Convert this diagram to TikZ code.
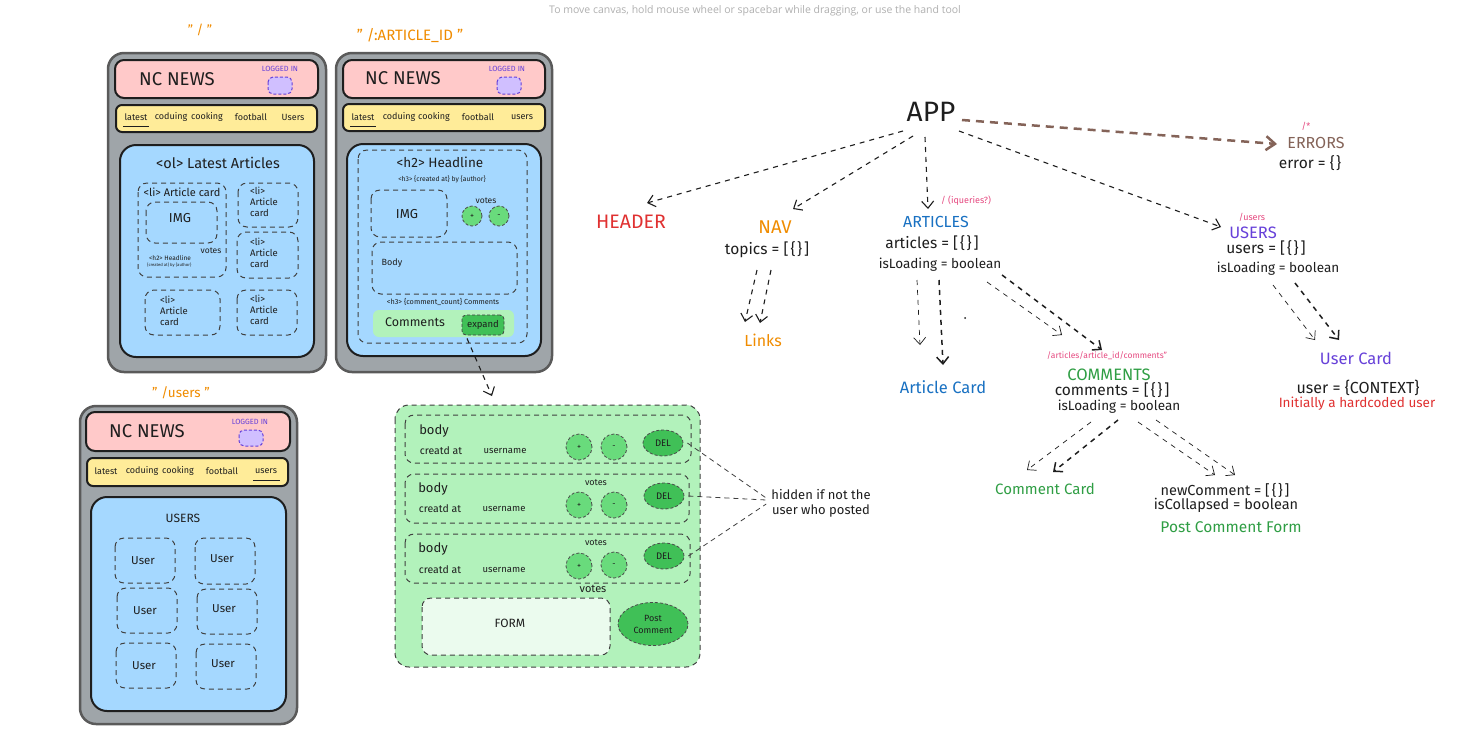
\documentclass[tikz,border=0pt]{standalone}
\usepackage{fontspec}
\setmainfont{Fira Sans}
\newfontfamily\hintfont{Open Sans}
\usetikzlibrary{arrows.meta,calc,shapes.geometric}
\definecolor{phonegrey}{HTML}{9FA5A9}
\definecolor{phoneedge}{HTML}{5A5A5A}
\definecolor{pinkc}{HTML}{FFC9C9}
\definecolor{yellowc}{HTML}{FFEC99}
\definecolor{bluec}{HTML}{A5D8FF}
\definecolor{lgreen}{HTML}{B2F2BB}
\definecolor{mgreen}{HTML}{69DB7C}
\definecolor{dgreen}{HTML}{40C057}
\definecolor{formc}{HTML}{EBFBEE}
\definecolor{purpbox}{HTML}{D0BFFF}
\definecolor{purpc}{HTML}{6741D9}
\definecolor{orangec}{HTML}{F08C00}
\definecolor{redc}{HTML}{E03131}
\definecolor{bluet}{HTML}{1971C2}
\definecolor{greent}{HTML}{2F9E44}
\definecolor{pinkt}{HTML}{E64980}
\definecolor{brownc}{HTML}{846358}
\definecolor{hintc}{HTML}{B0B0B0}
\definecolor{inkc}{HTML}{1E1E1E}
\newcommand\fsz[1]{\fontsize{#1}{#1}\selectfont}
\newcommand\brk{[\kern2pt\{\kern1.5pt\}\kern2pt]}
\newcommand\emp{\{\kern1.5pt\}}
\begin{document}
\begin{tikzpicture}[x=1pt,y=-1pt,
  tx/.style={inner sep=0pt,text=inkc},
  phone/.style={draw=phoneedge,fill=phonegrey,line width=2.5pt,rounded corners=16pt},
  hdr/.style={draw=inkc,fill=pinkc,line width=2pt,rounded corners=9pt},
  navb/.style={draw=inkc,fill=yellowc,line width=2pt,rounded corners=6pt},
  mainb/.style={draw=inkc,fill=bluec,line width=2pt,rounded corners=16pt},
  dbox/.style={draw=inkc!85,dash pattern=on 5pt off 4pt,line width=1pt,rounded corners=9pt},
  logb/.style={draw=purpc,fill=purpbox,dash pattern=on 3pt off 2pt,line width=1pt,rounded corners=5pt},
  vbtn/.style={circle,draw=inkc!80,fill=mgreen,dash pattern=on 3pt off 2pt,line width=0.8pt,inner sep=0pt,text=inkc,font=\fsz{8}},
  delb/.style={ellipse,draw=inkc!80,fill=dgreen,dash pattern=on 3pt off 2pt,line width=0.8pt,minimum width=40pt,minimum height=26pt,inner sep=0pt,text=inkc,font=\fsz{9.5}},
  arr/.style={draw=inkc,line width=1.1pt,dash pattern=on 5pt off 5pt,-{Straight Barb[length=7pt,width=12pt]}},
  arrthin/.style={arr,line width=0.7pt},
  arrthick/.style={arr,line width=1.5pt},
  dline/.style={draw=inkc!85,line width=0.8pt,dash pattern=on 5pt off 4pt},
  lbl/.style={tx,font=\fsz{9}},
  cardtxt/.style={tx,font=\fontsize{9.5}{11}\selectfont,align=left,anchor=north west}
]
\useasboundingbox (0,0) rectangle (1482,748);
\fill[white] (0,0) rectangle (1482,748);

\node[tx,text=hintc,font=\hintfont\fsz{10.5}] (hint) at (755,11) {To move canvas, hold mouse wheel or spacebar while dragging, or use the hand tool};

% ---------- phone 1 "/" ----------
\node[tx,text=orangec,font=\fsz{13}] (t1) at (200,30) {" / "};
\draw[phone] (108,53) rectangle (326,372);
\draw[hdr] (115,60) rectangle (318,98);
\node[tx,font=\fsz{18.5}] (nc1) at (177,79) {NC NEWS};
\node[tx,text=purpc,font=\fsz{7.5}] (li1) at (280,69) {LOGGED IN};
\draw[logb] (268,77) rectangle (292,94);
\draw[navb] (116,105) rectangle (317,132);
\foreach \x/\t in {136/latest,171/coduing,207/cooking,251/football,293/Users}
  \node[lbl] at (\x,117) {\t};
\draw[line width=0.8pt,inkc] (123,126) -- (149,126);
\draw[mainb] (120,145) rectangle (314,357);
\node[tx,font=\fsz{14.5}] (ol1) at (218,163) {<ol> Latest Articles};
\draw[dbox] (138,183) rectangle (226,277);
\node[tx,font=\fsz{11}] at (182,192) {<li> Article card};
\draw[dbox] (146,202) rectangle (217,243);
\node[tx,font=\fsz{13}] at (180,218) {IMG};
\node[tx,font=\fsz{8.5}] at (211,251) {votes};
\node[tx,font=\fsz{6.5},anchor=west] at (149,258) {<h2> Headline};
\node[tx,font=\fsz{4.2},anchor=west] at (147,265) {\{created at\} by \{author\}};
\draw[dbox] (238,183) rectangle (298,227);
\node[cardtxt] at (250,187) {<li>\\Article\\card};
\draw[dbox] (237,232) rectangle (298,278);
\node[cardtxt] at (250,238) {<li>\\Article\\card};
\draw[dbox] (145,290) rectangle (220,335);
\node[cardtxt] at (160,296) {<li>\\Article\\card};
\draw[dbox] (237,290) rectangle (297,335);
\node[cardtxt] at (250,295) {<li>\\Article\\card};

% ---------- phone 2 "/:ARTICLE_ID" ----------
\node[tx,text=orangec,font=\fsz{15}] (t2) at (410,36) {" /:ARTICLE\_ID "};
\draw[phone] (336,53) rectangle (552,372);
\draw[hdr] (343,60) rectangle (545,98);
\node[tx,font=\fsz{18.5}] (nc2) at (403,78) {NC NEWS};
\node[tx,text=purpc,font=\fsz{7.5}] (li2) at (507,69) {LOGGED IN};
\draw[logb] (497,77) rectangle (521,94);
\draw[navb] (343,104) rectangle (545,131);
\foreach \x/\t in {363/latest,399/coduing,434/cooking,478/football,522/users}
  \node[lbl] at (\x,117) {\t};
\draw[line width=0.8pt,inkc] (350,126) -- (376,126);
\draw[mainb] (347,144) rectangle (541,356);
\draw[dbox] (358,150) rectangle (527,343);
\node[tx,font=\fsz{13.5}] (h2) at (440,162) {<h2> Headline};
\node[tx,font=\fsz{6.8}] at (442,179) {<h3> \{created at\} by \{author\}};
\draw[dbox] (371,190) rectangle (447,237);
\node[tx,font=\fsz{13}] at (407,214) {IMG};
\node[tx,font=\fsz{8.5}] at (486,201) {votes};
\node[vbtn,minimum size=20pt] (ap) at (472,216) {+};
\node[vbtn,minimum size=20pt] (am) at (499,216) {-};
\draw[dbox] (372,242) rectangle (517,294);
\node[lbl] at (392,263) {Body};
\node[tx,font=\fsz{7.3}] at (443,302) {<h3> \{comment\_count\} Comments};
\fill[lgreen,rounded corners=6pt] (373,310) rectangle (514,337);
\node[tx,font=\fsz{12.5}] at (415,322) {Comments};
\node[draw=inkc!85,fill=dgreen,dash pattern=on 3pt off 2pt,line width=0.8pt,rounded corners=4pt,minimum width=42pt,minimum height=20pt,inner sep=0pt,text=inkc,font=\fsz{9.5}] (expand) at (483,325) {expand};

% ---------- phone 3 "/users" ----------
\node[tx,text=orangec,font=\fsz{13.5}] (t3) at (181,393) {" /users "};
\draw[phone] (80,406) rectangle (297,724);
\draw[hdr] (86,412) rectangle (290,451);
\node[tx,font=\fsz{18.5}] (nc3) at (147,431) {NC NEWS};
\node[tx,text=purpc,font=\fsz{7.5}] (li3) at (250,422) {LOGGED IN};
\draw[logb] (239,430) rectangle (263,446);
\draw[navb] (87,458) rectangle (288,486);
\foreach \x/\t in {106/latest,142/coduing,178/cooking,222/football,266/users}
  \node[lbl] at (\x,471) {\t};
\draw[line width=0.8pt,inkc] (253,480) -- (280,480);
\draw[mainb] (91,497) rectangle (286,711);
\node[tx,font=\fsz{12}] (usershd) at (183,518) {USERS};
\draw[dbox] (115,538) rectangle (175,583);
\node[tx,font=\fsz{11.5}] at (143,561) {User};
\draw[dbox] (195,538) rectangle (255,584);
\node[tx,font=\fsz{11.5}] at (222,559) {User};
\draw[dbox] (117,588) rectangle (177,633);
\node[tx,font=\fsz{11.5}] at (145,611) {User};
\draw[dbox] (197,589) rectangle (257,634);
\node[tx,font=\fsz{11.5}] at (224,609) {User};
\draw[dbox] (116,643) rectangle (176,688);
\node[tx,font=\fsz{11.5}] at (144,666) {User};
\draw[dbox] (196,644) rectangle (256,689);
\node[tx,font=\fsz{11.5}] at (223,664) {User};

% ---------- comments panel ----------
\draw[dbox,fill=lgreen,rounded corners=14pt] (395,405) rectangle (700,667);
\coordinate (panelin) at (492,396);
\draw[arr] ([shift={(-16,3)}]expand.south) -- (panelin);

\draw[dbox] (405,415) rectangle (691,463);
\node[tx,font=\fsz{13}] at (434,431) {body};
\node[tx,font=\fsz{10.5}] at (441,451) {creatd at};
\node[tx,font=\fsz{9.5}] at (505,451) {username};
\node[vbtn,minimum size=26pt] (p1) at (579,447) {+};
\node[vbtn,minimum size=26pt] (m1) at (614,447) {-};
\node[delb] (del1) at (663,443) {DEL};

\draw[dbox] (405,474) rectangle (689,523);
\node[tx,font=\fsz{13}] at (433,489) {body};
\node[tx,font=\fsz{9}] at (596,483) {votes};
\node[tx,font=\fsz{10.5}] at (440,509) {creatd at};
\node[tx,font=\fsz{9.5}] at (504,509) {username};
\node[vbtn,minimum size=26pt] (p2) at (579,505) {+};
\node[vbtn,minimum size=26pt] (m2) at (614,505) {-};
\node[delb] (del2) at (664,496) {DEL};

\draw[dbox] (405,534) rectangle (690,583);
\node[tx,font=\fsz{13}] at (433,549) {body};
\node[tx,font=\fsz{9}] at (596,543) {votes};
\node[tx,font=\fsz{10.5}] at (440,570) {creatd at};
\node[tx,font=\fsz{9.5}] at (504,570) {username};
\node[vbtn,minimum size=26pt] (p3) at (579,566) {+};
\node[vbtn,minimum size=26pt] (m3) at (614,565) {-};
\node[delb] (del3) at (664,556) {DEL};

\node[tx,font=\fsz{11}] at (593,589) {votes};
\draw[dbox,fill=formc] (422,598) rectangle (610,655);
\node[tx,font=\fsz{12}] (form) at (510,623) {FORM};
\node[delb,minimum width=70pt,minimum height=43pt,align=center,font=\fontsize{9}{12}\selectfont] (post) at (653,624) {Post\\Comment};

\node[tx,font=\fontsize{13}{15}\selectfont,align=center] (hidden) at (821,503) {hidden if not the\\user who posted};
\draw[dline] ([xshift=4pt]del1.east) -- ([shift={(-5,-5)}]hidden.west);
\draw[dline] ([xshift=4pt]del2.east) -- ([shift={(-5,-3)}]hidden.west);
\draw[dline] ([xshift=4pt]del3.east) -- ([shift={(-5,1)}]hidden.west);

% ---------- component tree ----------
\node[tx,font=\fsz{28}] (app) at (931,112) {APP};
\node[tx,text=redc,font=\fsz{19.5}] (header) at (631,222) {HEADER};
\node[tx,text=orangec,font=\fsz{18.5}] (nav) at (775,227) {NAV};
\node[tx,font=\fsz{15.5}] (topics) at (767,250) {topics = \brk};
\node[tx,text=orangec,font=\fsz{16}] (links) at (763,340) {Links};
\node[tx,text=pinkt,font=\fsz{9}] (artroute) at (966,201) {/ (iqueries?)};
\node[tx,text=bluet,font=\fsz{16}] (articles) at (936,222) {ARTICLES};
\node[tx,font=\fsz{15.5}] (artstate) at (932,243) {articles = \brk};
\node[tx,font=\fsz{13.5}] (artload) at (940,265) {isLoading = boolean};
\node[tx,text=bluet,font=\fsz{16.5}] (artcard) at (943,387) {Article Card};
\node[tx,text=pinkt,font=\fsz{8.5}] (cmtroute) at (1107,356) {/articles/article\_id/comments"};
\node[tx,text=greent,font=\fsz{16.5}] (comments) at (1109,375) {COMMENTS};
\node[tx,font=\fsz{15.5}] (cmtstate) at (1112,390) {comments = \brk};
\node[tx,font=\fsz{13.5}] (cmtload) at (1119,407) {isLoading = boolean};
\node[tx,text=greent,font=\fsz{15}] (cmtcard) at (1045,489) {Comment Card};
\node[tx,font=\fsz{14.5}] (newc) at (1225,490) {newComment = \brk};
\node[tx,font=\fsz{14.5}] (collapsed) at (1226,505) {isCollapsed = boolean};
\node[tx,text=greent,font=\fsz{15.5}] (pcf) at (1231,527) {Post Comment Form};
\node[tx,text=pinkt,font=\fsz{9}] (errroute) at (1306,126) {/*};
\node[tx,text=brownc,font=\fsz{16}] (errors) at (1316,143) {ERRORS};
\node[tx,font=\fsz{15.5}] (errstate) at (1310,163) {error = \emp};
\node[tx,text=pinkt,font=\fsz{9}] (usrroute) at (1252,217) {/users};
\node[tx,text=purpc,font=\fsz{16.5}] (users) at (1253,233) {USERS};
\node[tx,font=\fsz{15.5}] (usrstate) at (1266,248) {users = \brk};
\node[tx,font=\fsz{13.5}] (usrload) at (1278,269) {isLoading = boolean};
\node[tx,text=purpc,font=\fsz{16.5}] (usercard) at (1356,358) {User Card};
\node[tx,font=\fsz{16}] (userctx) at (1358,388) {user = \{CONTEXT\}};
\node[tx,text=redc,font=\fsz{13.5}] (hardc) at (1357,404) {Initially a hardcoded user};
\fill[inkc] (965,318) circle (1pt);

\draw[arr] ([shift={(-28,19)}]app.center) -- ([shift={(16,-19)}]header.center);
\draw[arr] ([shift={(-18,24)}]app.center) -- ([shift={(18,-18)}]nav.center);
\draw[arr] ([shift={(-6,25)}]app.center) -- ([shift={(-8,-13)}]articles.center);
\draw[arr] ([shift={(28,19)}]app.center) -- ([shift={(-32,-6)}]users.center);
\draw[draw=brownc,line width=2.5pt,dash pattern=on 8pt off 6pt,-{Straight Barb[length=9pt,width=14pt]}]
  ([shift={(31,8)}]app.center) -- ([shift={(-39,1)}]errors.center);

\draw[arr] ([shift={(-10,20)}]topics.center) -- ([shift={(-18,-18)}]links.center);
\draw[arr] ([shift={(4,20)}]topics.center) -- ([shift={(-3,-17)}]links.center);

\draw[arrthin] ([shift={(-23,15)}]artload.center) -- ([shift={(-23,-42)}]artcard.center);
\draw[arrthick] ([shift={(-1,15)}]artload.center) -- ([shift={(0,-22)}]artcard.center);
\draw[arrthin] ([shift={(47,17)}]artload.center) -- ([shift={(-47,-40)}]comments.center);
\draw[arrthick] ([shift={(62,10)}]artload.center) -- ([shift={(-7,-25)}]comments.center);

\draw[arrthin] ([shift={(-5,16)}]usrload.center) -- ([shift={(-41,-18)}]usercard.center);
\draw[arrthick] ([shift={(17,14)}]usrload.center) -- ([shift={(-17,-18)}]usercard.center);

\draw[arrthin] ([shift={(-28,15)}]cmtload.center) -- ([shift={(-18,-19)}]cmtcard.center);
\draw[arrthick] ([shift={(-1,13)}]cmtload.center) -- ([shift={(8,-17)}]cmtcard.center);
\draw[arrthin] ([shift={(19,15)}]cmtload.center) -- ([shift={(-10,-15)}]newc.center);
\draw[arrthin] ([shift={(37,13)}]cmtload.center) -- ([shift={(10,-15)}]newc.center);
\end{tikzpicture}
\end{document}
